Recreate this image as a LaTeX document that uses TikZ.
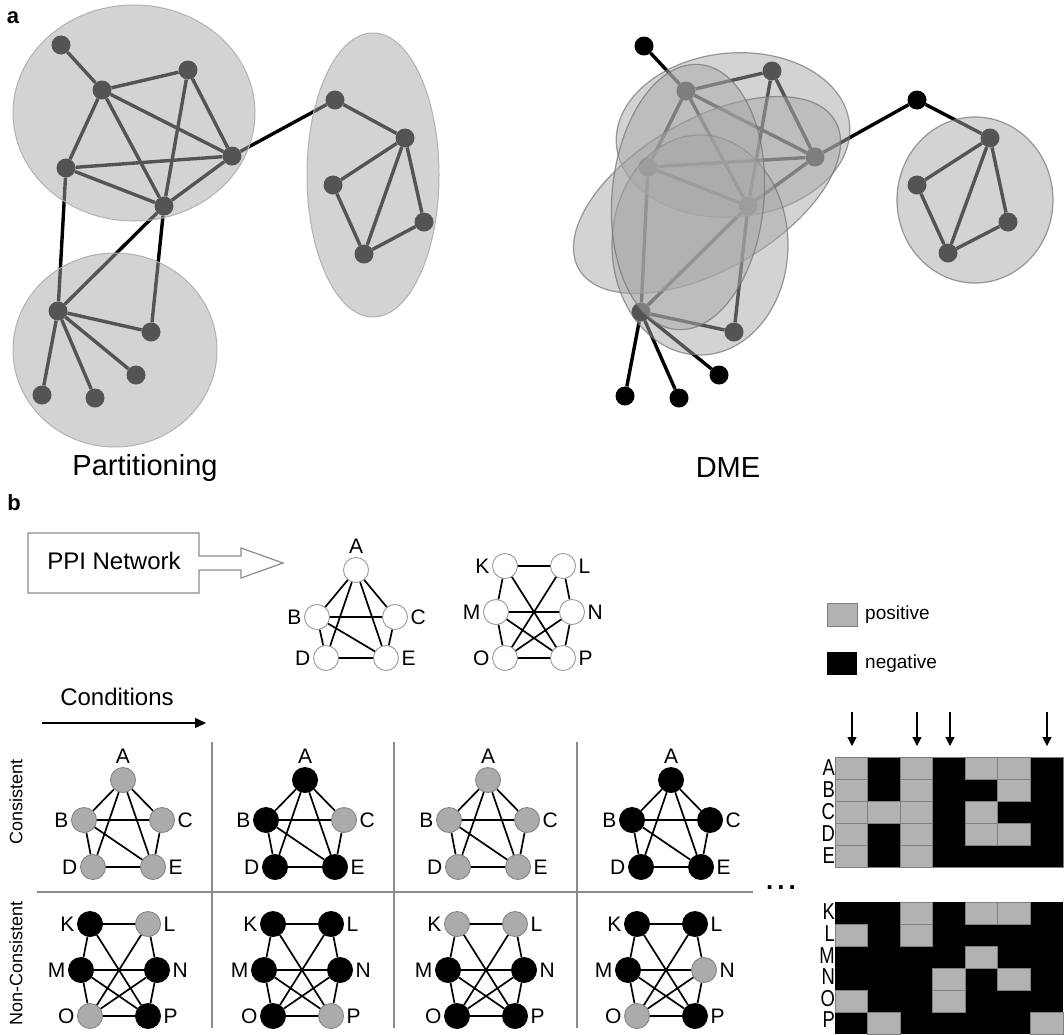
\documentclass[tikz,border=0pt]{standalone}
\usepackage{fontspec}
\setmainfont{Liberation Sans}
\usepackage{graphicx}
\usetikzlibrary{arrows.meta}
\definecolor{blobfill}{gray}{0.66}
\definecolor{nodegray}{HTML}{ABABAB}
\definecolor{nodegrayline}{HTML}{858585}
\definecolor{cellgray}{HTML}{B2B2B2}
\definecolor{cellline}{HTML}{7F7F7F}
\definecolor{linegray}{HTML}{8C8C8C}
\newcommand\fs[1]{\fontsize{#1}{#1}\selectfont}
\newcommand\pAy{40}
\newcommand\pDy{47}
\newcommand\penta[8]{%
 \node[#4,label={[lbl,label distance=3pt]above:A}] (#1A) at (#2,#3-\pAy) {};
 \node[#5,label={[lbl,label distance=2pt]left:B}] (#1B) at (#2-39,#3) {};
 \node[#6,label={[lbl,label distance=2pt]right:C}] (#1C) at (#2+39,#3) {};
 \node[#7,label={[lbl,label distance=2pt]left:D}] (#1D) at (#2-30,#3+\pDy) {};
 \node[#8,label={[lbl,label distance=2pt]right:E}] (#1E) at (#2+30,#3+\pDy) {};
 \draw[bedge] (#1A)--(#1B) (#1A)--(#1C) (#1A)--(#1D) (#1A)--(#1E) (#1B)--(#1C)
   (#1B)--(#1D) (#1B)--(#1E) (#1C)--(#1E) (#1D)--(#1E);
}
\newcommand\hexa[9]{%
 \node[#4,label={[lbl,label distance=2pt]left:K}] (#1K) at (#2-29,#3-46) {};
 \node[#5,label={[lbl,label distance=2pt]right:L}] (#1L) at (#2+29,#3-46) {};
 \node[#6,label={[lbl,label distance=2pt]left:M}] (#1M) at (#2-38,#3) {};
 \node[#7,label={[lbl,label distance=2pt]right:N}] (#1N) at (#2+38,#3) {};
 \node[#8,label={[lbl,label distance=2pt]left:O}] (#1O) at (#2-29,#3+46) {};
 \node[#9,label={[lbl,label distance=2pt]right:P}] (#1P) at (#2+29,#3+46) {};
 \draw[bedge] (#1K)--(#1L) (#1K)--(#1M) (#1K)--(#1P) (#1L)--(#1N) (#1L)--(#1O)
   (#1M)--(#1N) (#1M)--(#1O) (#1M)--(#1P) (#1N)--(#1O) (#1N)--(#1P) (#1O)--(#1P);
}
\begin{document}
\begin{tikzpicture}[x=1pt,y=-1pt,
  adot/.style={circle,fill=black,draw=none,inner sep=0pt,minimum size=19pt},
  aedge/.style={line width=3.4pt,black},
  blobL/.style={fill=blobfill,fill opacity=0.5,draw=black!30,line width=1pt},
  blobR/.style={fill=blobfill,fill opacity=0.5,draw=black!55,draw opacity=0.7,line width=1.2pt},
  bn/.style={circle,inner sep=0pt,minimum size=25pt,line width=0.9pt},
  wn/.style={bn,fill=white,draw=black!40},
  gn/.style={bn,fill=nodegray,draw=nodegrayline},
  kn/.style={bn,fill=black,draw=black},
  bedge/.style={line width=1.7pt,black},
  lbl/.style={font=\fs{21},inner sep=0.5pt},
  gridline/.style={draw=linegray,line width=1.5pt},
  arr/.style={line width=1.5pt,-{Triangle[length=11pt,width=10pt]}},
  marr/.style={line width=1.2pt,-{Triangle[length=9pt,width=9pt]}},
  rowlbl/.style={font=\fs{23},inner sep=0pt,anchor=east},
  cell/.style={fill=cellgray,draw=cellline,line width=0.8pt}
]
\useasboundingbox (0,0) rectangle (1064,1034);
\fill[white] (0,0) rectangle (1064,1034);

% ---------------- part a : partitioning ----------------
\node[font=\bfseries\fs{22}] (lbla) at (13,18) {a};
\foreach \n/\x/\y in {1/61/45,2/102/90,3/188/70,4/66/168,5/232/156,6/164/206,7/335/100,8/405/138,
  9/333/185,10/424/222,11/364/254,12/58/311,13/151/332,14/136/375,15/42/395,16/95/398}
  \node[adot] (n\n) at (\x,\y) {};
\foreach \a/\b in {1/2,2/3,2/4,2/5,2/6,3/5,3/6,4/5,4/6,5/6,5/7,4/12,6/12,6/13,7/8,8/9,8/10,8/11,9/11,10/11,12/13,12/14,12/15,12/16}
  \draw[aedge] (n\a) -- (n\b);
\draw[blobL] (134,113) ellipse [x radius=121pt, y radius=108pt];
\draw[blobL] (115,350) ellipse [x radius=102pt, y radius=97pt];
\draw[blobL] (373,175) ellipse [x radius=66pt, y radius=142pt];
\node[font=\fs{29}] (tpart) at (145,468) {Partitioning};

% ---------------- part a : DME ----------------
\foreach \n/\x/\y in {1/644/46,2/686/91,3/772/71,4/648/167,5/815/157,6/748/206,7/917/100,8/990/138,
  9/917/185,10/1008/222,11/948/253,12/641/312,13/734/332,14/719/375,15/625/396,16/679/398}
  \node[adot] (m\n) at (\x,\y) {};
\foreach \a/\b in {1/2,2/3,2/4,2/5,2/6,3/5,3/6,4/5,4/6,5/6,5/7,4/12,6/12,6/13,7/8,8/9,8/10,8/11,9/11,10/11,12/13,12/14,12/15,12/16}
  \draw[aedge] (m\a) -- (m\b);
\draw[blobR, rotate around={5:(733,135)}] (733,135) ellipse [x radius=117pt, y radius=82pt];
\draw[blobR, rotate around={30:(707,195)}] (707,195) ellipse [x radius=148pt, y radius=75pt];
\draw[blobR] (700,245) ellipse [x radius=88pt, y radius=110pt];
\draw[blobR, rotate around={-5:(688,197)}] (688,197) ellipse [x radius=76pt, y radius=133pt];
\draw[blobR] (975,200) ellipse [x radius=78pt, y radius=83pt];
\node[font=\fs{29}] (tdme) at (728,468) {DME};

% ---------------- part b ----------------
\node[font=\bfseries\fs{22}] (lblb) at (14,503) {b};
\draw[draw=black!45,line width=1.2pt,fill=white] (28,533) -- (199,533) -- (199,556) -- (241,556) -- (241,548)
  -- (283,563) -- (241,578) -- (241,570) -- (199,570) -- (199,593) -- (28,593) -- cycle;
\node[font=\fs{24}] (ppi) at (114,561) {PPI Network};

\renewcommand\pAy{47}\renewcommand\pDy{41}
\penta{t}{356}{617}{wn}{wn}{wn}{wn}{wn}
\hexa{u}{534}{612}{wn}{wn}{wn}{wn}{wn}{wn}

% legend
\node[cell,minimum width=30pt,minimum height=23pt,inner sep=0pt] (lgp) at (842,614.5) {};
\node[fill=black,minimum width=30pt,minimum height=23pt,inner sep=0pt] (lgn) at (842,663) {};
\node[font=\fs{19},anchor=west,inner sep=0pt] (tpos) at (865,615) {positive};
\node[font=\fs{19},anchor=west,inner sep=0pt] (tneg) at (865,664) {negative};

% conditions
\node[font=\fs{24}] (tcond) at (117,697) {Conditions};
\coordinate (cs) at (42,723);
\coordinate (ce) at (206,723);
\draw[arr] (cs) -- (ce);

% grid
\draw[gridline] (212,742) -- (212,1028);
\draw[gridline] (394,742) -- (394,1028);
\draw[gridline] (577,742) -- (577,1028);
\draw[gridline] (37,892) -- (753,892);
\node[rotate=90,font=\fs{18}] (tcons) at (16,802) {Consistent};
\node[rotate=90,font=\fs{18}] (tnon) at (16,963) {Non-Consistent};

\renewcommand\pAy{40}\renewcommand\pDy{47}
\penta{a}{123}{820}{gn}{gn}{gn}{gn}{gn}
\penta{b}{305}{820}{kn}{kn}{gn}{kn}{kn}
\penta{c}{488}{820}{gn}{gn}{gn}{gn}{gn}
\penta{d}{671}{820}{kn}{kn}{kn}{kn}{kn}
\hexa{e}{119}{970}{kn}{gn}{kn}{kn}{gn}{kn}
\hexa{f}{302}{970}{kn}{kn}{kn}{kn}{kn}{gn}
\hexa{g}{486}{970}{gn}{gn}{kn}{kn}{kn}{kn}
\hexa{h}{666}{970}{kn}{kn}{kn}{gn}{gn}{kn}

\node[font=\bfseries\fs{26},inner sep=0pt] (dots) at (781,888) {.\hspace{4pt}.\hspace{4pt}.};

% matrices
\fill[black] (835,757) rectangle (1063,867);
\foreach \row [count=\r from 0] in {{0,1,0,1,0,0,1},{0,1,0,1,1,0,1},{0,0,0,1,0,1,1},{0,1,0,1,0,0,1},{0,1,0,1,1,1,1}}
  \foreach \v [count=\c from 0] in \row
    {\ifnum\v=0 \draw[cell] (835+\c*32.57,757+\r*22) rectangle ++(32.57,22);\fi}
\fill[black] (835,902) rectangle (1063,1034);
\foreach \row [count=\r from 0] in {{1,1,0,1,0,0,1},{0,1,0,1,1,1,1},{1,1,1,1,0,1,1},{1,1,1,0,1,0,1},{0,1,1,0,1,1,1},{1,0,1,1,1,1,0}}
  \foreach \v [count=\c from 0] in \row
    {\ifnum\v=0 \draw[cell] (835+\c*32.57,902+\r*22) rectangle ++(32.57,22);\fi}
\draw[draw=cellline,line width=0.8pt] (835,757) rectangle (1063,867);
\foreach \l [count=\r from 0] in {A,B,C,D,E}
  \node[rowlbl] (ra\r) at (835,768+\r*22) {\scalebox{0.8}[1]{\l}};
\foreach \l [count=\r from 0] in {K,L,M,N,O,P}
  \node[rowlbl] (rk\r) at (835,912+\r*21.6) {\scalebox{0.8}[1]{\l}};

\foreach \x [count=\i] in {852,917,950,1047}{
  \coordinate (as\i) at (\x,712);
  \coordinate (ae\i) at (\x,746);
  \draw[marr] (as\i) -- (ae\i);
}
\end{tikzpicture}
\end{document}
